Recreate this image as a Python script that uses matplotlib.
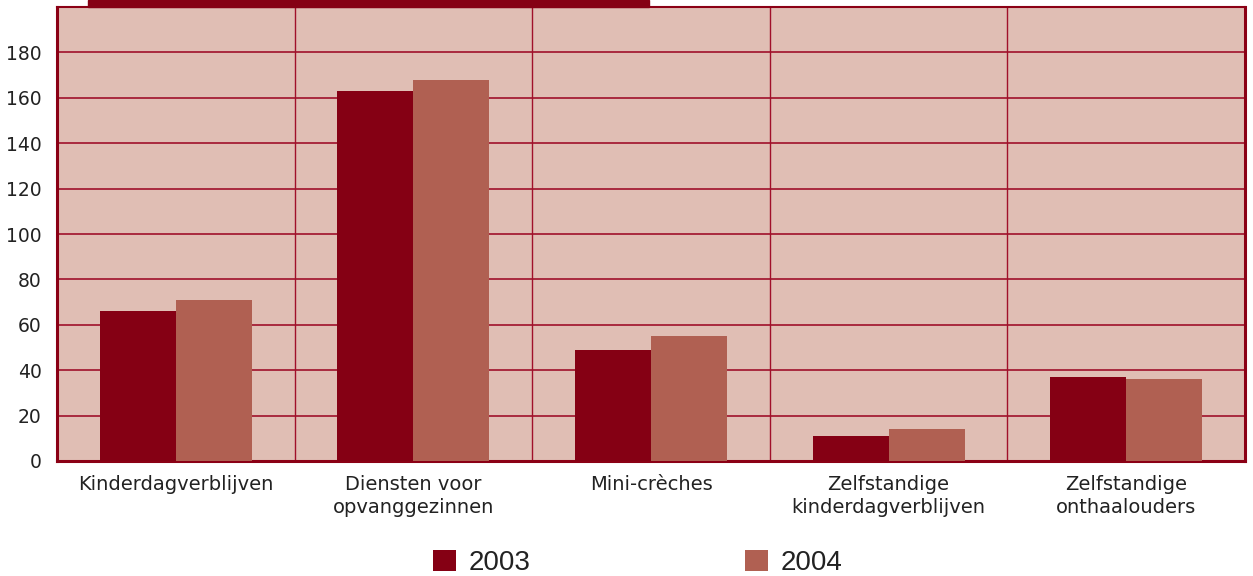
import matplotlib.pyplot as plt
import matplotlib.patches as mpatches
import numpy as np

plt.rcParams['font.family'] = ['DejaVu Sans']

# data
categories = ['Kinderdagverblijven', 'Diensten voor\nopvanggezinnen', 'Mini-crèches',
              'Zelfstandige\nkinderdagverblijven', 'Zelfstandige\nonthaalouders']
vals_2003 = [66, 163, 49, 11, 37]
vals_2004 = [71, 168, 55, 14, 36]
series_labels = ['2003', '2004']
yticks = [0, 20, 40, 60, 80, 100, 120, 140, 160, 180]

c2003 = '#850014'
c2004 = '#b06052'
bg = '#e0beb4'
grid_c = '#a0102a'

fig = plt.figure(figsize=(12.53, 5.76), dpi=100)
ax = fig.add_axes([57 / 1253, 115 / 576, (1245 - 57) / 1253, (461 - 7) / 576])
ax.set_facecolor(bg)

x = np.arange(len(categories))
w = 0.32
b1 = ax.bar(x - w / 2, vals_2003, width=w, color=c2003, zorder=3, label=series_labels[0])
b2 = ax.bar(x + w / 2, vals_2004, width=w, color=c2004, zorder=3, label=series_labels[1])

ax.set_xlim(-0.5, len(categories) - 0.5)
ax.set_ylim(0, 200)
ax.set_yticks(yticks)
ax.set_xticks(x)
ax.set_xticklabels(categories, fontsize=14, color='#222222', linespacing=1.3)
ax.set_xticks(np.arange(0.5, len(categories) - 0.5, 1), minor=True)
ax.tick_params(axis='x', which='both', length=0, pad=10)
ax.tick_params(axis='y', length=0, pad=11, labelsize=13.5, labelcolor='#222222')

# rasterlijnen
ax.grid(axis='y', which='major', color=grid_c, linewidth=1.2, zorder=1)
ax.grid(axis='x', which='minor', color=grid_c, linewidth=1.0, zorder=1)
ax.set_axisbelow(True)

for side in ['left', 'bottom', 'right']:
    ax.spines[side].set_color('#8b0015')
    ax.spines[side].set_linewidth(2.2)
ax.spines['top'].set_color('#8b0015')
ax.spines['top'].set_linewidth(1.5)

# donkerrode balk bovenaan (afgesneden titelbalk)
fig.patches.append(mpatches.Rectangle((88 / 1253, 1 - 7 / 576), (649 - 88) / 1253, 7 / 576,
                                      transform=fig.transFigure, color=c2003, zorder=5))

fig.legend(handles=[b1, b2], labels=series_labels, loc='center',
           bbox_to_anchor=(0.509, 0.022), ncol=2, frameon=False,
           prop={'family': 'Liberation Sans', 'size': 20},
           handlelength=0.83, handleheight=0.8, handletextpad=0.45, columnspacing=7.7,
           labelcolor='#222222')

fig.savefig('out.png', dpi=100)
